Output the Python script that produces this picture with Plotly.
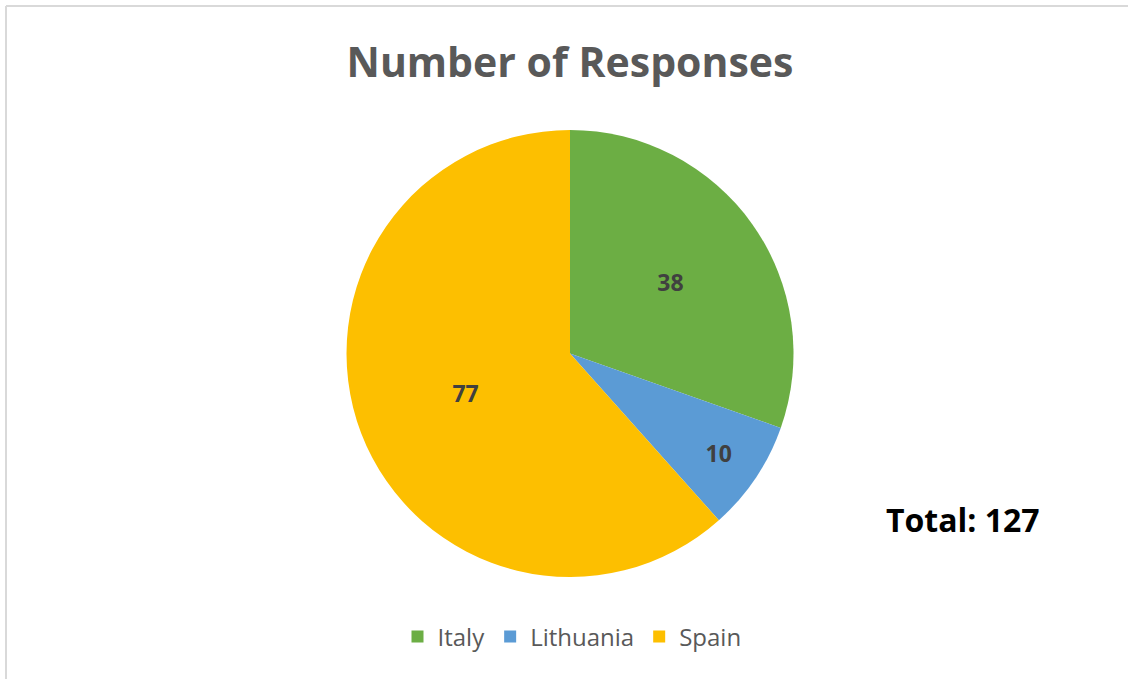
import plotly.graph_objects as go

countries = ["Italy", "Lithuania", "Spain"]
responses = [38, 10, 77]
colors = ["#6CAE44", "#5B9BD5", "#FDBF00"]
title_text = "Number of Responses"
total_text = "Total: 127"

W, H = 1128, 679
FONT = "Open Sans"

fig = go.Figure()
fig.add_trace(go.Pie(
    labels=countries,
    values=responses,
    sort=False,
    direction="clockwise",
    rotation=0,
    marker=dict(colors=colors, line=dict(width=0)),
    textinfo="value",
    textposition="inside",
    insidetextorientation="horizontal",
    textfont=dict(family=FONT, size=23, color="#404040", weight="bold"),
    hoverinfo="label+value",
    domain=dict(x=[346 / W, 794 / W], y=[1 - 577 / H, 1 - 130 / H]),
))

fig.update_layout(
    width=W, height=H,
    margin=dict(l=0, r=0, t=0, b=0),
    paper_bgcolor="white",
    plot_bgcolor="white",
    title=dict(text=title_text, x=570 / W, xanchor="center", y=1 - 63 / H, yanchor="middle",
               font=dict(family=FONT, size=41, color="#595959", weight="bold")),
    legend=dict(orientation="h", x=572 / W, xanchor="center", y=1 - 637 / H, yanchor="middle",
                font=dict(family=FONT, size=24, color="#595959"), itemwidth=30),
    annotations=[dict(text=total_text, x=963 / W, y=1 - 519 / H, xref="paper", yref="paper",
                      showarrow=False, xanchor="center", yanchor="middle",
                      font=dict(family=FONT, size=32, color="#000000", weight="bold"))],
    shapes=[
        dict(type="line", xref="paper", yref="paper", x0=6 / W, x1=6 / W, y0=0, y1=1 - 6 / H,
             line=dict(color="#D9D9D9", width=2)),
        dict(type="line", xref="paper", yref="paper", x0=6 / W, x1=1, y0=1 - 6 / H, y1=1 - 6 / H,
             line=dict(color="#D9D9D9", width=2)),
    ],
)

fig.write_html("out.html", config={"displayModeBar": False},
               post_script="document.body.style.margin='0';document.body.style.overflow='hidden';")
